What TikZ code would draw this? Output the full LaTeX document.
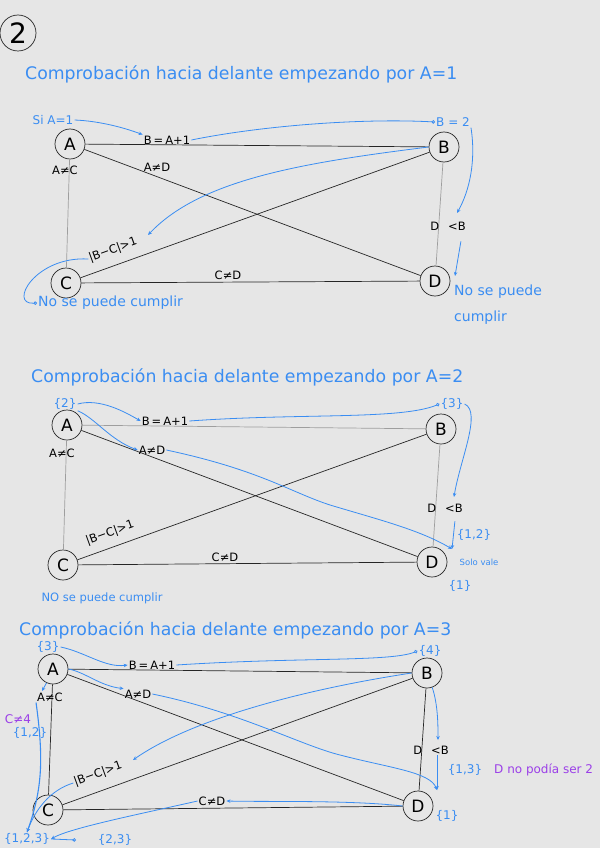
\documentclass[tikz,border=0pt]{standalone}
\usepackage{fontspec}
\setmainfont{DejaVu Sans}
\usetikzlibrary{arrows.meta, positioning}
\definecolor{penblue}{HTML}{3A8DF2}
\definecolor{penpurple}{HTML}{9B3FE8}
\definecolor{paper}{HTML}{E6E6E6}
\definecolor{faint}{HTML}{9E9E9E}

\tikzset{
  var/.style={circle, draw=black!85, line width=0.7pt, minimum size=30pt, inner sep=0pt, font=\fontsize{17}{17}\selectfont},
  con/.style={inner sep=1pt, font=\fontsize{11.5}{13}\selectfont},
  note/.style={inner sep=1pt, text=penblue, font=\fontsize{12}{14}\selectfont},
  headline/.style={anchor=west, inner sep=0pt, text=penblue, font=\fontsize{17.3}{19}\selectfont},
  strong/.style={draw=black!85, line width=0.7pt},
  weak/.style={draw=faint, line width=0.7pt},
  penarrow/.style={draw=penblue, line width=0.8pt, -{Stealth[length=4pt,width=3.5pt]}},
  penring/.style={draw=penblue, line width=0.8pt, -{Circle[open,length=3.5pt]}},
}
\newcommand{\sumone}{B\hspace{2pt}=\hspace{2pt}A+1}

\begin{document}
\begin{tikzpicture}[x=1pt, y=-1pt]
\fill[paper] (0,0) rectangle (600,848);
\useasboundingbox (0,0) rectangle (600,848);

% numero del ejercicio
\node[circle, draw=black!85, line width=0.7pt, minimum size=36pt, inner sep=0pt, font=\fontsize{28}{28}\selectfont] (num) at (18,33) {2};

% titulos
\node[headline] (head1) at (25,74) {Comprobación hacia delante empezando por A=1};
\node[headline] (head2) at (31,377) {Comprobación hacia delante empezando por A=2};
\node[headline] (head3) at (19,630) {Comprobación hacia delante empezando por A=3};

% ---------------- grafo 1 ----------------
\node[var] (A1) at (70,144) {A};
\node[var] (B1) at (444,147) {B};
\node[var] (C1) at (66,283) {C};
\node[var] (D1) at (435,281) {D};
\draw[strong] (A1) -- (B1);
\draw[weak] (A1) -- (C1);
\draw[strong] (A1) -- (D1);
\draw[strong] (B1) -- (C1);
\draw[weak] (B1) -- (D1);
\draw[strong] (C1) -- (D1);
\node[con] (AB1) at (167,140) {\sumone};
\node[con] (AD1) at (157,167) {A≠D};
\node[con] (AC1) at (65,170) {A≠C};
\node[con, rotate=20] (BC1) at (113,250) {|B−C|>1};
\node[con] (DB1) at (448,226) {D\hspace{9pt}<B};
\node[con] (CD1) at (228,275) {C≠D};

\node[note] (ifA1) at (53,120) {Si A=1};
\node[note] (valB1) at (453,122) {B = 2};
\node[note, anchor=west, align=left, font=\fontsize{14}{26}\selectfont] (noD1) at (453,305) {No se puede\\cumplir};
\node[note, anchor=west, font=\fontsize{14}{16}\selectfont] (noC1) at (37,303) {No se puede cumplir};
\coordinate (tipDB1) at (457,213);
\coordinate (tipD1) at (455,276);
\coordinate (tipBC1) at (148,235);

\draw[penarrow] (ifA1.east) .. controls (100,121) and (125,128) .. (AB1.north west);
\draw[penring] (AB1.east) .. controls (260,126) and (360,118) .. (valB1.west);
\draw[penarrow] (valB1.south east) .. controls (476,160) and (470,190) .. (tipDB1);
\draw[penarrow] ([shift={(-6,10)}]DB1.south east) -- (tipD1);
\draw[penarrow] (B1.west) .. controls (300,163) and (200,180) .. (tipBC1);
\draw[penring] (BC1.west) .. controls (35,256) and (8,305) .. (noC1.west);

% ---------------- grafo 2 ----------------
\node[var] (A2) at (67,425) {A};
\node[var] (B2) at (441,429) {B};
\node[var] (C2) at (63,565) {C};
\node[var] (D2) at (432,562) {D};
\draw[weak] (A2) -- (B2);
\draw[weak] (A2) -- (C2);
\draw[strong] (A2) -- (D2);
\draw[strong] (B2) -- (C2);
\draw[weak] (B2) -- (D2);
\draw[strong] (C2) -- (D2);
\node[con] (AB2) at (165,421) {\sumone};
\node[con] (AD2) at (152,450) {A≠D};
\node[con] (AC2) at (62,453) {A≠C};
\node[con, rotate=20] (BC2) at (110,533) {|B−C|>1};
\node[con] (DB2) at (445,508) {D\hspace{9pt}<B};
\node[con] (CD2) at (225,557) {C≠D};

\node[note] (domA2) at (65,404) {\{2\}};
\node[note] (domB2) at (452,404) {\{3\}};
\node[note] (domD2) at (474,535) {\{1,2\}};
\node[note, font=\fontsize{8.5}{10}\selectfont] (vale2) at (479,562) {Solo vale};
\node[note] (oneD2) at (460,586) {\{1\}};
\node[note, font=\fontsize{11.5}{13}\selectfont] (noC2) at (102,598) {NO se puede cumplir};
\coordinate (tipDB2) at (454,497);
\coordinate (tipD2) at (452,549);

\draw[penarrow] (domA2.east) .. controls (100,398) and (125,412) .. (AB2.west);
\draw[penarrow] (domA2.south east) .. controls (95,418) and (110,440) .. (AD2.west);
\draw[penring] (AB2.east) .. controls (300,413) and (400,420) .. (domB2.west);
\draw[penarrow] (domB2.east) .. controls (482,412) and (460,460) .. (tipDB2);
\draw[penarrow] ([shift={(-9,8)}]DB2.south east) -- (tipD2);
\draw[penarrow] (AD2.east) .. controls (260,470) and (290,492) .. (330,505) .. controls (380,520) and (420,530) .. (tipD2);

% ---------------- grafo 3 ----------------
\node[var] (A3) at (53,669) {A};
\node[var] (B3) at (427,673) {B};
\node[var] (C3) at (48,810) {C};
\node[var] (D3) at (418,806) {D};
\draw[strong] (A3) -- (B3);
\draw[strong] (A3) -- (C3);
\draw[strong] (A3) -- (D3);
\draw[strong] (B3) -- (C3);
\draw[strong] (B3) -- (D3);
\draw[strong] (C3) -- (D3);
\node[con] (AB3) at (152,665) {\sumone};
\node[con] (AD3) at (138,694) {A≠D};
\node[con] (AC3) at (50,697) {A≠C};
\node[con, rotate=20] (BC3) at (98,774) {|B−C|>1};
\node[con] (DB3) at (431,750) {D\hspace{9pt}<B};
\node[con] (CD3) at (212,801) {C≠D};

\node[note] (domA3) at (48,647) {\{3\}};
\node[note] (domB3) at (430,651) {\{4\}};
\node[note, text=penpurple] (notC3) at (18,719) {C≠4};
\node[note] (domC3) at (30,733) {\{1,2\}};
\node[note] (domD3) at (465,770) {\{1,3\}};
\node[note, text=penpurple, anchor=west] (whyD3) at (493,770) {D no podía ser 2};
\node[note] (oneD3) at (447,816) {\{1\}};
\node[note] (allC3) at (27,839) {\{1,2,3\}};
\node[note] (restC3) at (115,840) {\{2,3\}};
\coordinate (tipA3) at (42,691);
\coordinate (tipDB3) at (438,740);
\coordinate (tipBC3) at (133,760);
\coordinate (tipD3) at (437,790);
\coordinate (ringC3) at (76,840);

\draw[penarrow] (domA3.east) .. controls (85,652) and (105,668) .. (AB3.west);
\draw[penarrow] (A3.east) .. controls (85,672) and (100,686) .. (AD3.north west);
\draw[penarrow] (A3.-115) -- (tipA3);
\draw[penring] (AB3.east) .. controls (300,657) and (390,662) .. (domB3.west);
\draw[penarrow] (B3.-70) .. controls (438,705) and (438,725) .. (tipDB3);
\draw[penarrow] (B3.west) .. controls (300,690) and (190,720) .. (tipBC3);
\draw[penarrow] (AD3.east) .. controls (240,712) and (300,745) .. (340,755) .. controls (390,768) and (430,772) .. (tipD3);
\draw[penarrow] ([xshift=6pt]DB3.south) -- (tipD3);
\draw[penarrow] (D3.west) .. controls (350,800) and (270,802) .. (CD3.east);
\draw[penarrow] (CD3.west) .. controls (140,814) and (70,828) .. (allC3.east);
\draw[penarrow, line width=1.1pt] (AC3.south west) .. controls (44,760) and (42,790) .. (allC3.north);
\draw[penarrow] (BC3.west) .. controls (50,790) and (35,810) .. (allC3.north);
\draw[penring] (allC3.east) -- (ringC3);
\end{tikzpicture}
\end{document}
